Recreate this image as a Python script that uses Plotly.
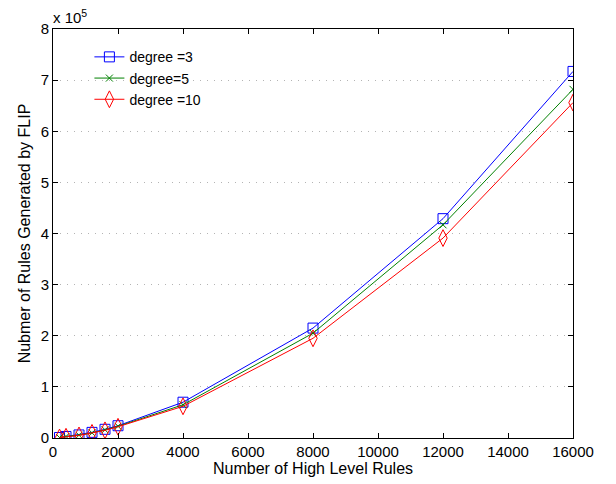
import plotly.graph_objects as go

x_rules = [200, 400, 800, 1200, 1600, 2000, 4000, 8000, 12000, 16000]
deg3 = [1000, 3000, 6000, 11000, 17000, 24000, 70000, 215000, 429000, 717000]
deg5 = [1000, 3000, 5500, 10000, 16000, 23000, 65000, 205000, 417000, 682000]
deg10 = [1000, 2500, 5000, 10000, 15000, 22000, 62000, 195000, 391000, 656000]
names = ["degree =3", "degree=5", "degree =10"]
x_ticks = [0, 2000, 4000, 6000, 8000, 10000, 12000, 14000, 16000]
y_ticks = [0, 1, 2, 3, 4, 5, 6, 7, 8]

fig = go.Figure()
fig.add_trace(go.Scatter(x=x_rules, y=deg3, name=names[0], mode="lines+markers",
                         line=dict(color="#0000ff", width=1),
                         marker=dict(symbol="square-open", size=10, color="#0000ff", line=dict(width=1))))
fig.add_trace(go.Scatter(x=x_rules, y=deg5, name=names[1], mode="lines+markers",
                         line=dict(color="#008000", width=1),
                         marker=dict(symbol="x-thin-open", size=7, color="#008000", line=dict(width=1, color="#008000"))))
fig.add_trace(go.Scatter(x=x_rules, y=deg10, name=names[2], mode="lines+markers",
                         line=dict(color="#ff0000", width=1),
                         marker=dict(symbol="diamond-tall-open", size=12, color="#ff0000", line=dict(width=1))))

FONT = "Liberation Sans, Arial, sans-serif"
tick_font = dict(family=FONT, size=15, color="black")
title_font = dict(family=FONT, size=16, color="black")
fig.update_layout(
    width=616, height=484,
    margin=dict(l=45, r=51, t=21, b=54, autoexpand=False),
    paper_bgcolor="white", plot_bgcolor="white",
    font=tick_font,
    showlegend=True,
    legend=dict(x=0.07, y=0.97, xanchor="left", yanchor="top", bgcolor="rgba(0,0,0,0)",
                font=dict(family=FONT, size=14, color="black"), tracegroupgap=0),
    xaxis=dict(range=[0, 16000], tickvals=x_ticks, ticktext=[str(v) for v in x_ticks],
               showline=True, linecolor="black", linewidth=1, mirror="ticks",
               ticks="inside", ticklen=5, tickcolor="black", showgrid=False, zeroline=False,
               automargin=False,
               title=dict(text="Number of High Level Rules", standoff=0, font=title_font),
               tickfont=tick_font),
    yaxis=dict(range=[0, 800000], tickvals=[v * 100000 for v in y_ticks], ticktext=[str(v) for v in y_ticks],
               showline=True, linecolor="black", linewidth=1, mirror="ticks",
               ticks="inside", ticklen=5, tickcolor="black",
               showgrid=True, gridcolor="#b4b4b4", griddash="1px,6px", gridwidth=1, zeroline=False,
               automargin=False,
               title=dict(text="Nubmer of Rules Generated by FLIP", standoff=6, font=title_font),
               tickfont=tick_font),
)
fig.add_annotation(x=0, y=1, xref="paper", yref="paper", xanchor="left", yanchor="bottom",
                   text="x 10<sup>5</sup>", showarrow=False, yshift=1, xshift=-2,
                   font=dict(family=FONT, size=15, color="black"))

fig.write_html("out.html")
